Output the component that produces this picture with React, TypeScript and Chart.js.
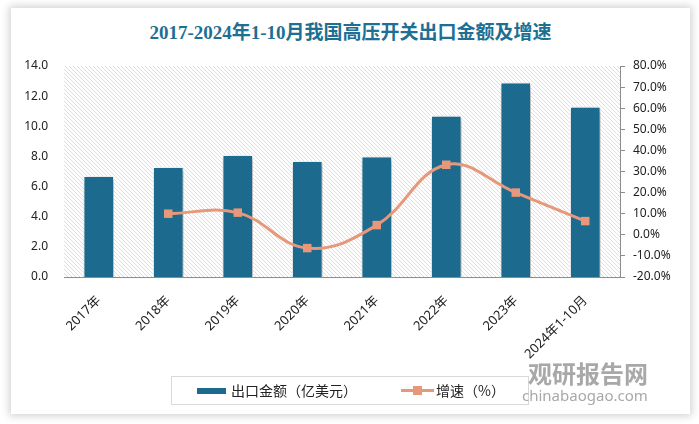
import React, { useEffect, useRef } from "react";
import { Chart, registerables } from "chart.js";

Chart.register(...registerables);

const titleText = "2017-2024年1-10月我国高压开关出口金额及增速";
const categories = ["2017年", "2018年", "2019年", "2020年", "2021年", "2022年", "2023年", "2024年1-10月"];
const exportValue = [6.7, 7.3, 8.1, 7.7, 8.0, 10.7, 12.9, 11.3];
const growthRate: (number | null)[] = [null, 10.0, 10.5, -6.3, 4.6, 33.2, 20.0, 6.5];
const barLabel = "出口金额（亿美元）";
const lineLabel = "增速（%）";

const BAR_COLOR = "#1c6a8e";
const LINE_COLOR = "#e8987a";

function makePattern(): CanvasPattern | string {
  const c = document.createElement("canvas");
  c.width = 4;
  c.height = 4;
  const g = c.getContext("2d");
  if (!g) return "#fff";
  g.fillStyle = "#ffffff";
  g.fillRect(0, 0, 4, 4);
  g.strokeStyle = "#dedede";
  g.lineWidth = 1;
  g.beginPath();
  g.moveTo(-1, -1);
  g.lineTo(5, 5);
  g.moveTo(-1, 3);
  g.lineTo(1, 5);
  g.moveTo(3, -1);
  g.lineTo(5, 1);
  g.stroke();
  const p = g.createPattern(c, "repeat");
  return p || "#fff";
}

const hatchPlugin = {
  id: "hatch",
  beforeDraw(chart: any) {
    const { ctx, chartArea } = chart;
    if (!chartArea) return;
    ctx.save();
    ctx.fillStyle = makePattern();
    ctx.fillRect(chartArea.left, chartArea.top, chartArea.right - chartArea.left, chartArea.bottom - chartArea.top);
    ctx.restore();
  },
  beforeDatasetDraw(chart: any, args: any) {
    const ctx = chart.ctx;
    ctx.save();
    if (args.index === 1) {
      ctx.shadowColor = "rgba(0,0,0,0.35)";
      ctx.shadowBlur = 6;
      ctx.shadowOffsetX = 2;
      ctx.shadowOffsetY = 2;
    }
  },
  afterDatasetDraw(chart: any) {
    chart.ctx.restore();
  },
};

export default function App() {
  const ref = useRef<HTMLCanvasElement | null>(null);

  useEffect(() => {
    if (!ref.current) return;
    const chart = new Chart(ref.current, {
      type: "bar",
      data: {
        labels: categories,
        datasets: [
          {
            type: "line",
            label: lineLabel,
            data: growthRate,
            yAxisID: "y1",
            borderColor: LINE_COLOR,
            backgroundColor: LINE_COLOR,
            borderWidth: 3,
            tension: 0.4,
            pointStyle: "rect",
            pointRadius: 6,
            pointBorderWidth: 0,
            pointBackgroundColor: LINE_COLOR,
            order: 0,
          } as any,
          {
            type: "bar",
            label: barLabel,
            data: exportValue,
            yAxisID: "y",
            backgroundColor: BAR_COLOR,
            borderColor: "#ffffff",
            borderWidth: 1,
            barPercentage: 0.44,
            categoryPercentage: 1,
            order: 1,
          } as any,
        ],
      },
      options: {
        animation: false,
        responsive: true,
        maintainAspectRatio: false,
        layout: { padding: { top: 58, left: 0, right: 0, bottom: 0 } },
        plugins: {
          legend: { display: false },
          title: { display: false },
          tooltip: { enabled: false },
        },
        scales: {
          x: {
            grid: { display: false },
            border: { display: true, color: "#8c8c8c", width: 1 },
            ticks: {
              minRotation: 45,
              maxRotation: 45,
              color: "#222",
              padding: 8,
              font: { family: "'Noto Sans', 'Noto Sans CJK SC', sans-serif", size: 13 },
            },
            afterFit(scale: any) {
              scale.height = 137;
            },
          },
          y: {
            position: "left",
            min: 0,
            max: 14,
            grid: { display: false, drawTicks: false },
            border: { display: false },
            ticks: {
              stepSize: 2,
              padding: 16,
              color: "#222",
              font: { family: "'Noto Sans', sans-serif", size: 12 },
              callback: (v: any) => Number(v).toFixed(1),
            },
            afterFit(scale: any) {
              scale.width = 53;
            },
          },
          y1: {
            position: "right",
            min: -20,
            max: 80,
            grid: { drawOnChartArea: false, drawTicks: true, tickLength: 5, color: "#8c8c8c" },
            border: { display: true, color: "#8c8c8c", width: 1 },
            ticks: {
              stepSize: 10,
              padding: 8,
              color: "#222",
              font: { family: "'Noto Sans', sans-serif", size: 12 },
              callback: (v: any) => Number(v).toFixed(1) + "%",
            },
            afterFit(scale: any) {
              scale.width = 70;
            },
          },
        },
      },
      plugins: [hatchPlugin],
    });
    return () => chart.destroy();
  }, []);

  return (
    <div style={{ position: "fixed", left: 0, top: 0, width: 699, height: 424, background: "#fff", overflow: "hidden" }}>
      <div
        style={{
          position: "absolute",
          left: 11,
          top: 8,
          width: 679,
          height: 406,
          background: "#fff",
          boxShadow: "0 0 8px 2px rgba(0,0,0,0.18)",
        }}
      >
        <div
          style={{
            position: "absolute",
            left: 0,
            top: 13,
            width: 679,
            textAlign: "center",
            fontFamily: "'Liberation Serif', 'Noto Sans CJK SC', serif",
            fontWeight: "bold",
            fontSize: 19,
            color: "#1d6f93",
            lineHeight: "24px",
          }}
        >
          {titleText}
        </div>
        <div style={{ position: "absolute", left: 0, top: 0, width: 679, height: 406 }}>
          <canvas ref={ref} />
        </div>
        <div
          style={{
            position: "absolute",
            left: 160,
            top: 368,
            width: 358,
            height: 29,
            border: "1px solid #d9d9d9",
            boxSizing: "border-box",
            fontFamily: "'Noto Sans CJK SC', sans-serif",
            fontSize: 14,
            color: "#222",
          }}
        >
          <div style={{ position: "absolute", left: 25, top: 11, width: 29, height: 6, background: BAR_COLOR }} />
          <div style={{ position: "absolute", left: 59, top: 3, lineHeight: "20px", whiteSpace: "nowrap" }}>{barLabel}</div>
          <div style={{ position: "absolute", left: 229, top: 12, width: 33, height: 3, background: LINE_COLOR }} />
          <div style={{ position: "absolute", left: 241, top: 9, width: 9, height: 9, background: LINE_COLOR }} />
          <div style={{ position: "absolute", left: 264, top: 3, lineHeight: "20px", whiteSpace: "nowrap" }}>{lineLabel}</div>
        </div>
        <div
          style={{
            position: "absolute",
            left: 517,
            top: 351,
            fontFamily: "'Noto Sans CJK SC', sans-serif",
            fontWeight: "bold",
            fontSize: 24,
            color: "#a8a8a8",
            lineHeight: "28px",
            whiteSpace: "nowrap",
          }}
        >
          观研报告网
        </div>
        <div
          style={{
            position: "absolute",
            left: 511,
            top: 378,
            fontFamily: "'Noto Sans', sans-serif",
            fontSize: 15,
            color: "#a8a8a8",
            lineHeight: "18px",
            whiteSpace: "nowrap",
          }}
        >
          chinabaogao.com
        </div>
      </div>
    </div>
  );
}
